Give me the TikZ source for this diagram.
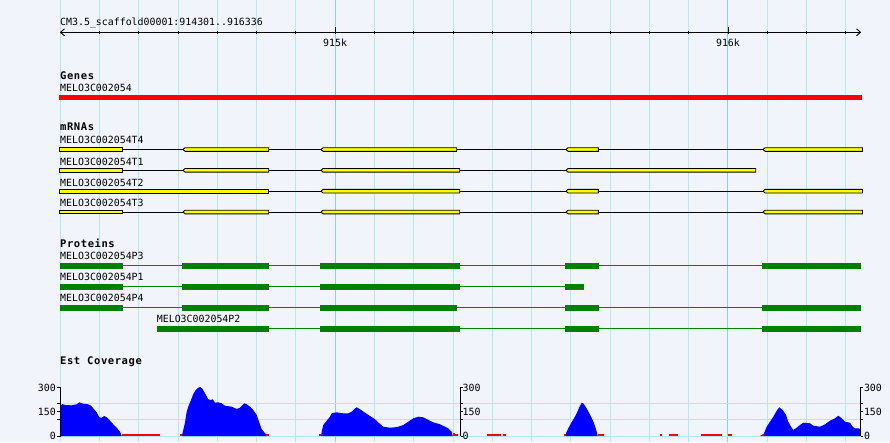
\documentclass[tikz,border=0pt]{standalone}
\usepackage{fontspec}
\newfontfamily\monoF{DejaVu Sans Mono}
\newfontfamily\monoBF{DejaVu Sans Mono}[LetterSpace=5.5]
\newcommand\lblfont{\monoF\fontsize{9.9pt}{10pt}\selectfont}
\newcommand\hdrfont{\monoBF\bfseries\fontsize{10.5pt}{11pt}\selectfont}
\definecolor{bg}{RGB}{241,244,250}
\definecolor{gridc}{RGB}{176,234,240}
\definecolor{gridm}{RGB}{140,205,232}
\definecolor{exonY}{RGB}{255,255,0}
\definecolor{protG}{RGB}{0,128,0}
\definecolor{covB}{RGB}{0,0,255}
\definecolor{covR}{RGB}{255,0,0}
\newcommand\mexonfirst[3]{\filldraw[fill=exonY,draw=black,line width=0.9pt] (#1,{#3-1.8}) rectangle (#2,{#3+1.8});}
\newcommand\mexon[3]{\filldraw[fill=exonY,draw=black,line width=0.9pt] ({#1-2},#3) -- (#1,{#3-1.8}) -- (#2,{#3-1.8}) -- (#2,{#3+1.8}) -- (#1,{#3+1.8}) -- cycle;}
\newcommand\pexon[3]{\fill[protG] (#1,{#3-3}) rectangle (#2,{#3+3});}
\begin{document}
\begin{tikzpicture}[x=1pt,y=-1pt,
  lab/.style={font=\lblfont, inner sep=0pt, anchor=base west},
  hd/.style={font=\hdrfont, inner sep=0pt, anchor=base west},
  axl/.style={font=\lblfont, inner sep=0pt},
  intronM/.style={draw=black, line width=0.9pt},
  intronP/.style={draw=protG, line width=0.9pt},
  cov/.style={fill=covB},
  gap/.style={fill=covR}]
\fill[bg] (0,0) rectangle (890,442);
\useasboundingbox (0,0) rectangle (890,442);
% vertical grid
\foreach \i in {0,...,20} {
  \pgfmathsetmacro\gx{60.2+\i*39.28}
  \draw[gridc, line width=1pt] (\gx,0) -- (\gx,442);
}
\draw[gridm, line width=1pt] (335.16,0) -- (335.16,442);
\draw[gridm, line width=1pt] (727.96,0) -- (727.96,442);
% horizontal grid in coverage
\draw[gridc, line width=1pt] (60,403.7) -- (861,403.7);
\draw[gridc, line width=1pt] (60,419.8) -- (861,419.8);
\draw[gridc, line width=1pt] (60,436.6) -- (861,436.6);
% ruler
\node[lab] (title) at (60,25) {CM3.5\_scaffold00001:914301..916336};
\draw[black, line width=0.9pt] (60.5,32.3) -- (860.5,32.3);
\draw[black, line width=0.9pt] (64.5,28.8) -- (60.5,32.3) -- (64.5,35.8);
\draw[black, line width=0.9pt] (856.5,28.8) -- (860.5,32.3) -- (856.5,35.8);
\foreach \i in {1,...,20} {
  \pgfmathsetmacro\gx{60.2+\i*39.28}
  \draw[black, line width=0.9pt] (\gx,30.5) -- (\gx,34.3);
}
\draw[black, line width=0.9pt] (335.16,27.3) -- (335.16,34.3);
\draw[black, line width=0.9pt] (727.96,27.3) -- (727.96,34.3);
\node[axl, anchor=base] (k915) at (335.16,46) {915k};
\node[axl, anchor=base] (k916) at (727.96,46) {916k};
% genes
\node[hd] (genes) at (60,79.3) {Genes};
\node[lab] (g1) at (60,91.7) {MELO3C002054};
\fill[red] (59,95.3) rectangle (861.7,100.3);
% mRNAs
\node[hd] (mrnas) at (60,130.7) {mRNAs};
\node[lab] (t4) at (60,143.3) {MELO3C002054T4};
\node[lab] (t1) at (60,165) {MELO3C002054T1};
\node[lab] (t2) at (60,186) {MELO3C002054T2};
\node[lab] (t3) at (60,206.8) {MELO3C002054T3};
% T4
\draw[intronM] (60,149.5) -- (861,149.5);
\mexonfirst{59}{122.7}{149.5}
\mexon{185}{268.7}{149.5}
\mexon{323}{456.7}{149.5}
\mexon{568}{598.3}{149.5}
\mexon{765}{862.5}{149.5}
% T1
\draw[intronM] (60,170.3) -- (755,170.3);
\mexonfirst{59}{122.7}{170.3}
\mexon{185}{268.7}{170.3}
\mexon{323}{459.7}{170.3}
\mexon{568}{755.7}{170.3}
% T2
\draw[intronM] (60,191.2) -- (861,191.2);
\mexonfirst{59}{268.7}{191.2}
\mexon{323}{459.7}{191.2}
\mexon{568}{598.3}{191.2}
\mexon{765}{862.5}{191.2}
% T3
\draw[intronM] (60,212) -- (861,212);
\mexonfirst{59}{122.7}{212}
\mexon{185}{268.7}{212}
\mexon{323}{459.7}{212}
\mexon{568}{598.3}{212}
\mexon{765}{862.5}{212}
% Proteins
\node[hd] (prot) at (60,247.7) {Proteins};
\node[lab] (p3) at (60,259.3) {MELO3C002054P3};
\node[lab] (p1) at (60,280.7) {MELO3C002054P1};
\node[lab] (p4) at (60,301.7) {MELO3C002054P4};
\node[lab] (p2) at (156.7,322.7) {MELO3C002054P2};
\draw[intronP] (60,265.8) -- (861,265.8);
\pexon{60}{123}{265.8}\pexon{182}{269}{265.8}\pexon{320}{460}{265.8}\pexon{565}{599}{265.8}\pexon{762}{861}{265.8}
\draw[intronP] (60,286.7) -- (584,286.7);
\pexon{60}{123}{286.7}\pexon{182}{269}{286.7}\pexon{320}{460}{286.7}\pexon{565}{584}{286.7}
\draw[intronP] (60,307.7) -- (861,307.7);
\pexon{60}{123}{307.7}\pexon{182}{269}{307.7}\pexon{320}{457}{307.7}\pexon{565}{599}{307.7}\pexon{762}{861}{307.7}
\draw[intronP] (157,328.7) -- (861,328.7);
\pexon{157}{269}{328.7}\pexon{320}{460}{328.7}\pexon{565}{599}{328.7}\pexon{762}{861}{328.7}
% Coverage
\node[hd] (est) at (60,364) {Est Coverage};
\fill[cov] (60.8,436) -- (60.8,405.7) -- (62.3,404) -- (65,405) -- (71.7,405.3) -- (76.7,404.3) -- (79.3,402.3) -- (83.3,403.7) -- (88.3,404.3) -- (91,405.7) -- (93.3,408.3) -- (96.7,412.3) -- (99.3,417.3) -- (101.7,417.7) -- (104.3,416) -- (106.7,417.3) -- (110,420.7) -- (113.3,424.3) -- (116.7,427.7) -- (120,431.7) -- (121.7,436) -- cycle;
\fill[cov] (182,436) -- (182,435) -- (183.3,430) -- (185,422.7) -- (186.7,411.7) -- (188.3,406.7) -- (191,400) -- (193.3,394) -- (195.7,390) -- (198.3,387.7) -- (200.3,387) -- (202.3,388.7) -- (205,393.3) -- (208.3,399.3) -- (210.7,400) -- (212.7,399.3) -- (215,402.7) -- (218.3,402.3) -- (221.7,403.3) -- (225,405.7) -- (231.7,406.7) -- (236.7,409) -- (240,407.7) -- (244.3,403.3) -- (246.7,404.3) -- (250,406.7) -- (253.3,410) -- (256.7,415) -- (259,421.7) -- (261.7,429.3) -- (264.3,432.3) -- (266,434.3) -- (267,436) -- cycle;
\fill[cov] (321,436) -- (321.7,431.7) -- (323.3,425) -- (326.7,420.7) -- (330,416.7) -- (331.7,413.3) -- (336.7,412.3) -- (343.3,413.3) -- (348.3,413.3) -- (351.7,411.7) -- (354.3,409) -- (356.7,407.3) -- (360,409.3) -- (365,412.7) -- (370,416) -- (375,419.3) -- (379.3,423.3) -- (383.3,426.7) -- (390,427.7) -- (395,427.3) -- (398.3,426.7) -- (403.3,425) -- (408.3,421.7) -- (413.3,418.3) -- (418.3,416.7) -- (423.3,417.3) -- (428.3,420) -- (433.3,422.3) -- (440,424.3) -- (445,426.7) -- (448.3,428.3) -- (451.7,431.7) -- (452.7,436) -- cycle;
\fill[cov] (566,436) -- (566,433.3) -- (568.3,428.3) -- (571,423.3) -- (574,418.3) -- (576.7,413.3) -- (579.3,407.3) -- (581.7,402.7) -- (583.3,403.3) -- (586,407.3) -- (589.3,413.3) -- (592.7,420) -- (595,426) -- (596.7,431.7) -- (597.7,436) -- cycle;
\fill[cov] (764,436) -- (764,433.3) -- (766.7,426.7) -- (770,421.7) -- (773.3,416.7) -- (776.7,410.7) -- (779.3,407.3) -- (782.7,410) -- (786,415) -- (788.3,421.7) -- (791,426.7) -- (793.3,430) -- (796.7,427.7) -- (800,425) -- (803.3,422.7) -- (810,423.3) -- (813.3,425.7) -- (820,426.7) -- (825,424.3) -- (830,420.7) -- (835,418.3) -- (838.3,415.7) -- (841.7,418.3) -- (845,421.7) -- (850,422.7) -- (852.7,426.7) -- (855,428.3) -- (858.3,428.3) -- (860.5,429) -- (860.5,436) -- cycle;
% zero-coverage (red) stretches
\fill[gap] (121.7,433.6) rectangle (124.3,436);
\fill[gap] (124.3,434.4) rectangle (160,436);
\fill[gap] (180,434) rectangle (182,436);
\fill[gap] (266,434) rectangle (269,436);
\fill[gap] (319,434) rectangle (321,436);
\fill[gap] (452.7,433) rectangle (455,436);
\fill[gap] (455,434.4) rectangle (458.3,436);
\fill[gap] (486.7,434.4) rectangle (500.7,436);
\fill[gap] (503.3,434.4) rectangle (505.7,436);
\fill[gap] (564,434.4) rectangle (566,436);
\fill[gap] (597.7,434.4) rectangle (604.3,436);
\fill[gap] (660,434.4) rectangle (661.5,436);
\fill[gap] (669.3,434.4) rectangle (678.3,436);
\fill[gap] (701,434.4) rectangle (721.7,436);
\fill[gap] (728.3,434.4) rectangle (731.7,436);
\fill[gap] (760,436) -- (764,433.5) -- (764,436) -- cycle;
% axes
\draw[black, line width=0.9pt] (60.5,387.3) -- (60.5,436.3);
\draw[black, line width=0.9pt] (460.7,387.3) -- (460.7,436.3);
\draw[black, line width=0.9pt] (860.7,387.3) -- (860.7,436.3);
\foreach \ty in {387.5,403.7,411.75,419.8,436} {
  \draw[black, line width=0.9pt] (57.3,\ty) -- (60.5,\ty);
  \draw[black, line width=0.9pt] (460.7,\ty) -- (463,\ty);
  \draw[black, line width=0.9pt] (860.7,\ty) -- (863,\ty);
}
\node[axl, anchor=east] (l300) at (56,387.5) {300};
\node[axl, anchor=east] (l150) at (56,411.9) {150};
\node[axl, anchor=east] (l0) at (56,436.2) {0};
\node[axl, anchor=west] (m300) at (462.5,387.5) {300};
\node[axl, anchor=west] (m150) at (462.5,411.75) {150};
\node[axl, anchor=west] (m0) at (462.5,436) {0};
\node[axl, anchor=west] (r300) at (863.8,387.5) {300};
\node[axl, anchor=west] (r150) at (863.8,411.75) {150};
\node[axl, anchor=west] (r0) at (863.8,436) {0};
\end{tikzpicture}
\end{document}
